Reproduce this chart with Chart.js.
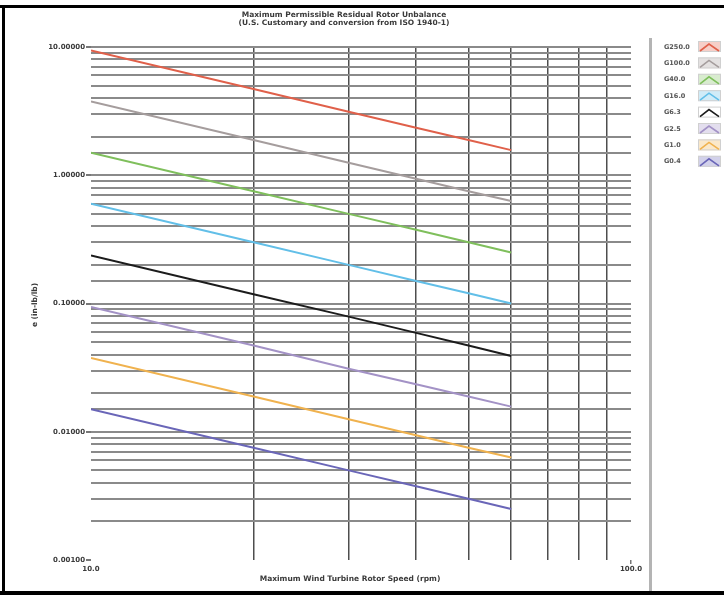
<!DOCTYPE html>
<html>
<head>
<meta charset="utf-8">
<script src="https://cdn.jsdelivr.net/npm/chart.js@4.4.1/dist/chart.umd.min.js"></script>
<style>
  html, body { margin: 0; padding: 0; background: #fff; }
  canvas { display: block; }
</style>
</head>
<body>
<canvas id="unbalanceChart" width="724" height="595"></canvas>
<script>
// rotor speed (rpm) where each grade line was read
const rotorSpeeds = [10, 20, 30, 40, 50, 60];

const gradeLabels = ['G250.0', 'G100.0', 'G40.0', 'G16.0', 'G6.3', 'G2.5', 'G1.0', 'G0.4'];
const gradeColors = ['#e0604a', '#a59d9d', '#7fbf5c', '#62bfe8', '#1c1c1c', '#a392c6', '#f0b24e', '#6a66b8'];

// e (in-lb/lb)
const g250 = [9.4, 4.7, 3.13, 2.35, 1.88, 1.57];
const g100 = [3.76, 1.88, 1.25, 0.94, 0.75, 0.63];
const g40 = [1.5, 0.75, 0.5, 0.376, 0.3, 0.25];
const g16 = [0.6, 0.3, 0.2, 0.15, 0.12, 0.1];
const g6_3 = [0.237, 0.118, 0.079, 0.059, 0.047, 0.039];
const g2_5 = [0.094, 0.047, 0.031, 0.0235, 0.0188, 0.0157];
const g1_0 = [0.0376, 0.0188, 0.0125, 0.0094, 0.0075, 0.0063];
const g0_4 = [0.015, 0.0075, 0.005, 0.00376, 0.003, 0.0025];
const gradeValues = [g250, g100, g40, g16, g6_3, g2_5, g1_0, g0_4];

const xTickValues = [10, 20, 30, 40, 50, 60, 70, 80, 90, 100];
const xTickLabels = { 10: '10.0', 100: '100.0' };
const yDecades = [10, 1, 0.1, 0.01, 0.001];
const yTickLabels = ['10.00000', '1.00000', '0.10000', '0.01000', '0.00100'];

const chartTitle = ['Maximum Permissible Residual Rotor Unbalance', '(U.S. Customary and conversion from ISO 1940-1)'];
const xAxisTitle = 'Maximum Wind Turbine Rotor Speed (rpm)';
const yAxisTitle = 'e (in-lb/lb)';

const textFont = '"DejaVu Sans", sans-serif';

const isDecade = (v) => Math.abs(Math.log10(v) - Math.round(Math.log10(v))) < 1e-6;
const decadeLabel = (v) => {
    const i = yDecades.findIndex((d) => Math.abs(d - v) / d < 1e-6);
    return i >= 0 ? yTickLabels[i] : '';
};

const fadeColor = (hex, alpha) => {
    const n = parseInt(hex.slice(1), 16);
    return `rgba(${(n >> 16) & 255}, ${(n >> 8) & 255}, ${n & 255}, ${alpha})`;
};

const decorPlugin = {
    id: 'decor',
    afterDraw(chart) {
        const { ctx } = chart;
        ctx.save();
        ctx.font = `bold 7.5px ${textFont}`;
        ctx.fillStyle = '#3a3a3a';
        ctx.textAlign = 'center';
        ctx.textBaseline = 'middle';
        ctx.fillText(chartTitle[0], 344, 15);
        ctx.fillText(chartTitle[1], 344, 23);
        ctx.fillText(xAxisTitle, 350, 579);

        ctx.save();
        ctx.translate(35, 305);
        ctx.rotate(-Math.PI / 2);
        ctx.fillText(yAxisTitle, 0, 0);
        ctx.restore();

        // legend panel
        ctx.fillStyle = '#b4b4b4';
        ctx.fillRect(649, 38, 3, 554);
        chart.data.datasets.forEach((ds, i) => {
            const y = 47 + i * 16.4;
            ctx.fillStyle = '#555';
            ctx.textAlign = 'left';
            ctx.font = `bold 6.5px ${textFont}`;
            ctx.fillText(ds.label, 664, y);

            ctx.fillStyle = ds.label === 'G6.3' ? '#ffffff' : fadeColor(ds.borderColor, 0.3);
            ctx.fillRect(698, y - 6, 23, 11);
            ctx.strokeStyle = '#d0d0d0';
            ctx.lineWidth = 1;
            ctx.strokeRect(698.5, y - 5.5, 22, 10);
            ctx.strokeStyle = ds.borderColor;
            ctx.lineWidth = 1.6;
            ctx.beginPath();
            ctx.moveTo(700, y + 4);
            ctx.lineTo(709, y - 3);
            ctx.lineTo(719, y + 4);
            ctx.stroke();
        });

        // outer frame
        ctx.fillStyle = '#000';
        ctx.fillRect(0, 5, 724, 3);
        ctx.fillRect(2, 5, 3, 590);
        ctx.fillRect(0, 591, 724, 4);
        ctx.restore();
    },
};

new Chart(document.getElementById('unbalanceChart'), {
    type: 'line',
    data: {
        datasets: gradeLabels.map((label, i) => ({
            label,
            data: rotorSpeeds.map((x, j) => ({ x, y: gradeValues[i][j] })),
            borderColor: gradeColors[i],
            borderWidth: 2,
            pointRadius: 0,
            tension: 0,
            fill: false,
        })),
    },
    options: {
        responsive: false,
        animation: false,
        layout: {
            padding: { top: 47, right: 93, left: 0, bottom: 0 },
        },
        plugins: {
            legend: { display: false },
            tooltip: { enabled: false },
        },
        scales: {
            x: {
                type: 'logarithmic',
                min: 10,
                max: 100,
                afterBuildTicks: (scale) => {
                    scale.ticks = xTickValues.map((value) => ({ value }));
                },
                afterFit: (scale) => {
                    scale.height = 35;
                },
                border: { display: false },
                grid: {
                    color: (ctx) => (ctx.tick && (ctx.tick.value === 10 || ctx.tick.value === 100) ? 'rgba(0,0,0,0)' : '#4e4e4e'),
                    lineWidth: 1.5,
                    tickLength: 4,
                    tickColor: (ctx) => (ctx.tick && ctx.tick.value === 100 ? '#777' : 'rgba(0,0,0,0)'),
                },
                ticks: {
                    autoSkip: false,
                    maxRotation: 0,
                    padding: 1,
                    color: '#3a3a3a',
                    font: { family: textFont, size: 7, weight: 'bold' },
                    callback: (value) => xTickLabels[value] || '',
                },
            },
            y: {
                type: 'logarithmic',
                min: 0.001,
                max: 10,
                afterFit: (scale) => {
                    scale.width = 91;
                },
                border: { display: false },
                grid: {
                    color: (ctx) => (ctx.tick && Math.abs(ctx.tick.value - 0.001) < 1e-9 ? 'rgba(0,0,0,0)' : '#8a8a8a'),
                    lineWidth: 2,
                    tickLength: 5,
                    tickColor: (ctx) => (ctx.tick && isDecade(ctx.tick.value) ? '#777' : 'rgba(0,0,0,0)'),
                },
                ticks: {
                    autoSkip: false,
                    padding: 1,
                    color: '#3a3a3a',
                    font: { family: textFont, size: 7, weight: 'bold' },
                    callback: (value) => (isDecade(value) ? decadeLabel(value) : ''),
                },
            },
        },
    },
    plugins: [decorPlugin],
});
</script>
</body>
</html>
